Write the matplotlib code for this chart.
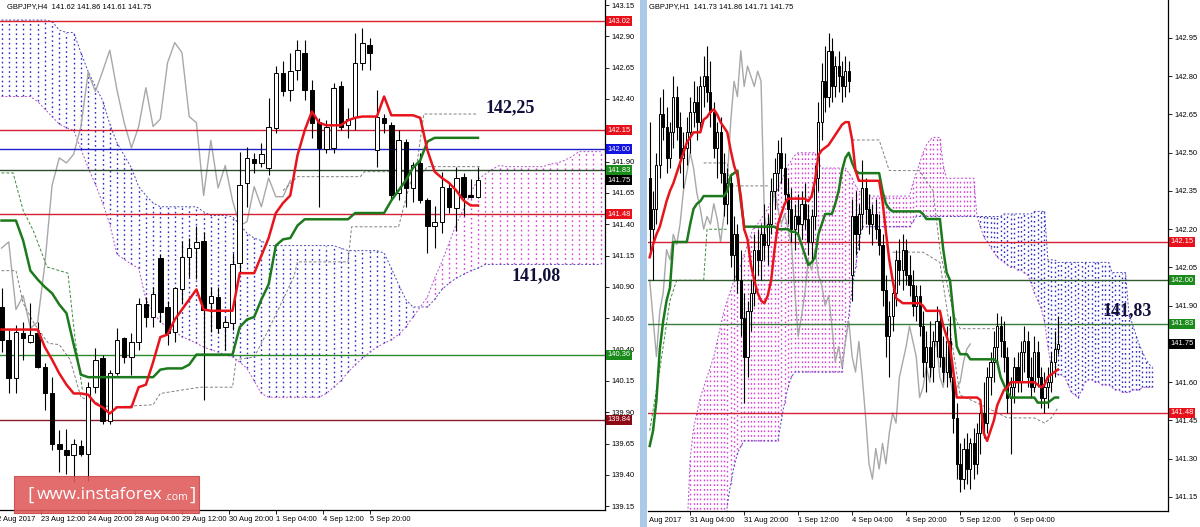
import numpy as np
import matplotlib.pyplot as plt
from matplotlib.patches import Rectangle
from matplotlib.transforms import blended_transform_factory

plt.rcParams['font.family'] = ['Liberation Sans', 'DejaVu Sans']

# ---------------- H4 panel (left) ----------------
h4_open = [140.74, 140.48, 140.17, 140.53, 140.46, 140.53, 140.26, 140.05, 139.65, 139.60,
           139.56, 139.63, 139.57, 140.10, 140.33, 139.83, 140.21, 140.49, 140.34, 140.46,
           140.76, 140.66, 141.13, 140.74, 140.54, 140.88, 141.14, 141.21, 141.27, 140.77,
           140.82, 140.58, 140.61, 141.09, 141.73, 141.92, 141.89, 141.85, 142.17, 142.61,
           142.47, 142.63, 142.77, 142.47, 142.22, 142.00, 142.01, 142.50, 142.19, 142.26,
           142.69, 142.83, 141.99, 142.25, 142.19, 141.65, 142.06, 141.69, 141.89, 141.59,
           141.39, 141.42, 141.69, 141.53, 141.78, 141.63, 141.62]
h4_high = [140.89, 140.56, 140.60, 140.62, 140.77, 140.62, 140.29, 140.18, 139.76, 139.77,
           139.69, 139.68, 140.14, 140.41, 140.36, 140.24, 140.57, 140.50, 140.53, 140.81,
           140.82, 140.90, 141.16, 140.79, 140.90, 141.27, 141.29, 141.39, 141.34, 140.90,
           140.90, 140.66, 141.17, 141.98, 142.02, 141.97, 142.05, 142.41, 142.66, 142.70,
           142.77, 142.87, 142.87, 142.55, 142.25, 142.23, 142.53, 142.54, 142.33, 142.93,
           142.97, 142.89, 142.47, 142.28, 142.22, 142.15, 142.08, 141.90, 141.97, 141.61,
           141.55, 141.82, 141.74, 141.86, 141.81, 141.76, 141.86]
h4_low = [140.38, 140.05, 140.05, 140.32, 140.45, 140.25, 139.92, 139.60, 139.42, 139.41,
          139.34, 139.55, 139.35, 140.05, 139.81, 139.81, 140.20, 140.29, 140.20, 140.40,
          140.58, 140.58, 140.62, 140.44, 140.46, 140.77, 140.98, 140.96, 140.00, 140.54,
          140.53, 140.40, 140.56, 141.01, 141.54, 141.81, 141.86, 141.79, 142.13, 142.42,
          142.38, 142.55, 142.39, 142.09, 141.54, 141.97, 141.97, 142.15, 142.09, 142.15,
          142.63, 142.63, 141.86, 142.13, 141.59, 141.59, 141.54, 141.58, 141.57, 141.17,
          141.21, 141.33, 141.49, 141.35, 141.47, 141.61, 141.61]
h4_close = [140.48, 140.17, 140.54, 140.49, 140.52, 140.26, 140.05, 139.65, 139.61, 139.56,
            139.65, 139.57, 140.10, 140.32, 139.83, 140.21, 140.48, 140.34, 140.46, 140.76,
            140.66, 140.84, 140.70, 140.53, 140.89, 141.14, 141.21, 141.26, 140.72, 140.83,
            140.57, 140.62, 141.08, 141.71, 141.93, 141.89, 141.96, 142.18, 142.61, 142.46,
            142.62, 142.79, 142.47, 142.21, 142.01, 142.18, 142.49, 142.18, 142.24, 142.69,
            142.85, 142.77, 142.26, 142.21, 141.63, 142.07, 141.69, 141.87, 141.59, 141.39,
            141.42, 141.70, 141.54, 141.77, 141.62, 141.62, 141.75]
h4_tenkan = [140.56, 140.56, 140.56, 140.56, 140.56, 140.56, 140.42, 140.32, 140.21, 140.12,
             140.05, 140.05, 140.04, 139.97, 139.94, 139.89, 139.94, 139.94, 139.94, 140.10,
             140.12, 140.30, 140.50, 140.52, 140.64, 140.72, 140.80, 140.88, 140.72, 140.71,
             140.71, 140.71, 140.71, 141.01, 141.01, 141.01, 141.15, 141.29, 141.49, 141.57,
             141.63, 141.95, 142.15, 142.30, 142.21, 142.19, 142.19, 142.19, 142.23, 142.25,
             142.26, 142.26, 142.26, 142.42, 142.27, 142.27, 142.27, 142.27, 142.25, 141.99,
             141.82, 141.77, 141.73, 141.67, 141.59, 141.55, 141.55]
h4_kijun = [141.43, 141.43, 141.43, 141.27, 141.03, 140.96, 140.90, 140.85, 140.76, 140.69,
            140.44, 140.20, 140.18, 140.18, 140.18, 140.18, 140.18, 140.18, 140.18, 140.18,
            140.18, 140.18, 140.24, 140.25, 140.25, 140.25, 140.28, 140.36, 140.36, 140.36,
            140.36, 140.36, 140.36, 140.58, 140.64, 140.66, 140.80, 140.92, 141.23, 141.28,
            141.29, 141.39, 141.44, 141.44, 141.44, 141.44, 141.44, 141.44, 141.44, 141.49,
            141.49, 141.49, 141.49, 141.49, 141.59, 141.67, 141.75, 141.85, 141.91, 142.06,
            142.09, 142.09, 142.09, 142.09, 142.09, 142.09, 142.09]
h4_span_a = [142.42, 142.42, 142.42, 142.42, 142.42, 142.38, 142.32, 142.26, 142.20, 142.17,
             142.15, 142.00, 141.85, 141.72, 141.57, 141.40, 141.16, 141.12, 141.08, 141.05,
             140.80, 140.70, 140.62, 140.58, 140.55, 140.50, 140.48, 140.45, 140.42, 140.40,
             140.38, 140.36, 140.34, 140.30, 140.25, 140.15, 140.05, 140.02, 140.02, 140.02,
             140.02, 140.02, 140.02, 140.02, 140.02, 140.05, 140.10, 140.15, 140.22, 140.28,
             140.33, 140.38, 140.42, 140.45, 140.48, 140.52, 140.58, 140.66, 140.74, 140.82,
             140.97, 141.10, 141.25, 141.40, 141.52, 141.65, 141.76, 141.80, 141.84, 141.87,
             141.86, 141.86, 141.86, 141.86, 141.86, 141.86, 141.88, 141.89, 141.91, 141.94,
             141.98, 141.98, 141.98, 141.98]
h4_span_b = [143.03, 143.03, 143.03, 143.03, 143.03, 143.03, 143.03, 143.02, 142.95, 142.93,
             142.93, 142.77, 142.62, 142.50, 142.39, 142.20, 142.05, 141.95, 141.85, 141.70,
             141.63, 141.57, 141.54, 141.54, 141.54, 141.54, 141.54, 141.54, 141.50, 141.47,
             141.47, 141.47, 141.46, 141.40, 141.33, 141.29, 141.27, 141.23, 141.23, 141.23,
             141.23, 141.23, 141.23, 141.23, 141.23, 141.23, 141.23, 141.21, 141.19, 141.19,
             141.19, 141.19, 141.19, 141.17, 141.05, 140.92, 140.80, 140.74, 140.74, 140.74,
             140.80, 140.88, 140.93, 140.97, 141.00, 141.03, 141.05, 141.08, 141.08, 141.08,
             141.08, 141.08, 141.08, 141.08, 141.08, 141.08, 141.08, 141.08, 141.08, 141.08,
             141.08, 141.08, 141.08, 141.08]
# thin dashed guide lines (bar index, price)
h4_guide1_x = [0, 2, 3, 4.5, 6.5, 8, 9.5, 11, 15, 21, 22, 27.5, 32, 32.5, 35, 37, 40.5, 41,
               45.5, 48, 48.5, 54, 55, 56.5, 57.5, 58.5, 66]
h4_guide1_y = [141.03, 141.03, 140.77, 140.61, 140.45, 140.44, 140.32, 140.02, 139.94, 139.96,
               140.05, 140.10, 140.10, 140.32, 140.34, 140.56, 140.98, 141.10, 141.10, 141.10,
               141.38, 141.38, 141.38, 141.71, 141.86, 142.28, 142.28]
h4_guide2_x = [0, 1.6, 3, 4.4, 6.3, 9.2, 10.2, 11.2]
h4_guide2_y = [141.81, 141.81, 141.51, 141.35, 141.06, 141.01, 140.48, 140.08]
h4_guide3_x = [39, 41, 49.7, 50.3, 58.5, 59, 66.3]
h4_guide3_y = [141.67, 141.78, 141.78, 141.82, 141.82, 141.86, 141.86]
h4_levels = [143.02, 142.15, 142.00, 141.83, 141.48, 140.36, 139.84]
h4_level_colors = ['#e0202c', '#d42030', '#2020c8', '#2e4a2e', '#d42030', '#2a8a2a', '#8a1c2a']
h4_tag_prices = [143.02, 142.15, 142.00, 141.83, 141.75, 141.48, 140.36, 139.84]
h4_tag_colors = ['#e8101a', '#e8101a', '#1414e0', '#1a8a1a', '#000000', '#e8101a', '#1a8a1a', '#8b0a14']
h4_yticks = [139.15, 139.40, 139.65, 139.90, 140.15, 140.40, 140.65, 140.90, 141.15, 141.40,
             141.65, 141.90, 142.40, 142.65, 142.90, 143.15]
h4_xtick_pos = [5.5, 12, 18.5, 25, 31.5, 38, 44.5, 51]
h4_xtick_lab = ['23 Aug 12:00', '24 Aug 20:00', '28 Aug 04:00', '29 Aug 12:00',
                '30 Aug 20:00', '1 Sep 04:00', '4 Sep 12:00', '5 Sep 20:00']

# ---------------- H1 panel (right) ----------------
h1_open = [142.40, 142.20, 142.28, 142.45, 142.65, 142.60, 142.48, 142.58, 142.72, 142.60,
           142.48, 142.52, 142.58, 142.66, 142.70, 142.62, 142.76, 142.80, 142.74, 142.66,
           142.52, 142.58, 142.42, 142.30, 142.38, 142.10, 142.18, 142.00, 141.85, 141.70,
           141.88, 141.95, 142.12, 142.08, 142.18, 142.14, 142.22, 142.35, 142.42, 142.50,
           142.44, 142.34, 142.28, 142.20, 142.25, 142.22, 142.30, 142.24, 142.15, 142.25,
           142.40, 142.62, 142.78, 142.72, 142.90, 142.76, 142.84, 142.80, 142.76, 142.82,
           142.02, 142.25, 142.18, 142.26, 142.36, 142.28, 142.22, 142.26, 142.20, 142.14,
           141.96, 141.78, 141.86, 141.95, 142.08, 142.04, 142.12, 142.02, 141.98, 141.90,
           141.94, 141.82, 141.68, 141.74, 141.66, 141.76, 141.84, 141.70, 141.64, 141.76,
           141.62, 141.46, 141.28, 141.22, 141.34, 141.26, 141.36, 141.28, 141.40, 141.48,
           141.44, 141.62, 141.68, 141.74, 141.82, 141.76, 141.70, 141.54, 141.58, 141.66,
           141.60, 141.72, 141.76, 141.62, 141.58, 141.72, 141.62, 141.54, 141.58, 141.60,
           141.68, 141.73]
h1_high = [142.62, 142.35, 142.50, 142.72, 142.75, 142.68, 142.62, 142.80, 142.76, 142.66,
           142.58, 142.64, 142.72, 142.78, 142.76, 142.80, 142.88, 142.92, 142.86, 142.70,
           142.62, 142.64, 142.50, 142.44, 142.42, 142.25, 142.22, 142.12, 141.95, 141.92,
           142.00, 142.18, 142.20, 142.22, 142.30, 142.26, 142.40, 142.48, 142.55, 142.56,
           142.50, 142.40, 142.36, 142.30, 142.34, 142.35, 142.38, 142.30, 142.28, 142.45,
           142.70, 142.85, 142.92, 142.97, 142.95, 142.88, 142.90, 142.86, 142.88, 142.86,
           142.32, 142.35, 142.30, 142.47, 142.40, 142.34, 142.30, 142.32, 142.26, 142.18,
           142.02, 141.92, 142.00, 142.12, 142.16, 142.18, 142.16, 142.10, 142.04, 141.98,
           141.98, 141.88, 141.80, 141.84, 141.80, 141.90, 141.88, 141.78, 141.82, 141.86,
           141.66, 141.52, 141.36, 141.38, 141.40, 141.38, 141.42, 141.44, 141.52, 141.60,
           141.66, 141.72, 141.80, 141.87, 141.86, 141.84, 141.74, 141.62, 141.70, 141.72,
           141.76, 141.82, 141.80, 141.70, 141.78, 141.76, 141.66, 141.64, 141.66, 141.72,
           141.80, 141.86]
h1_low = [142.10, 142.00, 142.22, 142.40, 142.55, 142.42, 142.44, 142.52, 142.55, 142.42,
          142.36, 142.45, 142.50, 142.60, 142.55, 142.58, 142.68, 142.70, 142.60, 142.48,
          142.40, 142.38, 142.25, 142.22, 142.05, 142.00, 141.95, 141.78, 141.52, 141.62,
          141.80, 141.90, 142.02, 142.00, 142.08, 142.06, 142.18, 142.28, 142.35, 142.38,
          142.30, 142.22, 142.15, 142.12, 142.18, 142.16, 142.20, 142.10, 142.08, 142.20,
          142.35, 142.55, 142.66, 142.68, 142.70, 142.72, 142.74, 142.70, 142.72, 142.74,
          141.92, 142.10, 142.12, 142.20, 142.22, 142.18, 142.14, 142.16, 142.10, 141.90,
          141.70, 141.62, 141.80, 141.90, 141.98, 141.96, 141.98, 141.94, 141.86, 141.84,
          141.78, 141.62, 141.56, 141.62, 141.60, 141.70, 141.66, 141.60, 141.58, 141.60,
          141.40, 141.22, 141.17, 141.18, 141.20, 141.18, 141.22, 141.24, 141.32, 141.38,
          141.40, 141.55, 141.60, 141.68, 141.70, 141.64, 141.48, 141.32, 141.52, 141.56,
          141.56, 141.64, 141.58, 141.54, 141.56, 141.58, 141.50, 141.48, 141.50, 141.56,
          141.62, 141.71]
h1_close = [142.20, 142.28, 142.45, 142.65, 142.60, 142.48, 142.58, 142.72, 142.60, 142.48,
            142.52, 142.58, 142.66, 142.70, 142.62, 142.76, 142.80, 142.74, 142.66, 142.52,
            142.58, 142.42, 142.30, 142.38, 142.10, 142.18, 142.00, 141.85, 141.70, 141.88,
            141.95, 142.12, 142.08, 142.18, 142.14, 142.22, 142.35, 142.42, 142.50, 142.44,
            142.34, 142.28, 142.20, 142.25, 142.22, 142.30, 142.24, 142.15, 142.25, 142.40,
            142.62, 142.78, 142.72, 142.90, 142.76, 142.84, 142.80, 142.76, 142.82, 142.78,
            142.25, 142.18, 142.26, 142.36, 142.28, 142.22, 142.26, 142.20, 142.14, 141.96,
            141.78, 141.86, 141.95, 142.08, 142.04, 142.12, 142.02, 141.98, 141.90, 141.94,
            141.82, 141.68, 141.74, 141.66, 141.76, 141.84, 141.70, 141.64, 141.76, 141.62,
            141.46, 141.28, 141.22, 141.34, 141.26, 141.36, 141.28, 141.40, 141.48, 141.44,
            141.62, 141.68, 141.74, 141.82, 141.76, 141.70, 141.54, 141.58, 141.66, 141.60,
            141.72, 141.76, 141.62, 141.58, 141.72, 141.62, 141.54, 141.58, 141.60, 141.68,
            141.73, 141.75]
h1_tenkan = [142.09, 142.14, 142.18, 142.21, 142.26, 142.31, 142.35, 142.38, 142.42, 142.46,
             142.50, 142.54, 142.56, 142.58, 142.58, 142.58, 142.63, 142.64, 142.66, 142.67,
             142.65, 142.62, 142.60, 142.58, 142.51, 142.45, 142.41, 142.33, 142.20, 142.16,
             142.06, 142.00, 141.95, 141.92, 141.91, 141.94, 142.00, 142.12, 142.22, 142.26,
             142.30, 142.32, 142.32, 142.32, 142.32, 142.32, 142.32, 142.31, 142.33, 142.39,
             142.49, 142.51, 142.52, 142.53, 142.55, 142.57, 142.59, 142.61, 142.62, 142.62,
             142.55, 142.43, 142.39, 142.39, 142.39, 142.39, 142.39, 142.39, 142.39, 142.31,
             142.19, 142.08, 142.00, 141.93, 141.92, 141.91, 141.91, 141.91, 141.91, 141.91,
             141.91, 141.90, 141.88, 141.88, 141.88, 141.88, 141.88, 141.82, 141.78, 141.74,
             141.64, 141.54, 141.54, 141.54, 141.54, 141.54, 141.54, 141.54, 141.53, 141.40,
             141.37, 141.41, 141.45, 141.51, 141.54, 141.57, 141.58, 141.60, 141.60, 141.60,
             141.60, 141.60, 141.60, 141.60, 141.60, 141.59, 141.58, 141.59, 141.62, 141.63,
             141.64, 141.65]
h1_kijun = [141.35, 141.41, 141.53, 141.73, 141.84, 141.92, 141.97, 142.15, 142.15, 142.15,
            142.15, 142.15, 142.22, 142.28, 142.30, 142.31, 142.33, 142.33, 142.33, 142.33,
            142.33, 142.33, 142.33, 142.35, 142.41, 142.42, 142.43, 142.31, 142.21, 142.21,
            142.21, 142.21, 142.21, 142.21, 142.21, 142.21, 142.21, 142.21, 142.20, 142.20,
            142.20, 142.20, 142.19, 142.19, 142.18, 142.14, 142.10, 142.06, 142.07, 142.09,
            142.18, 142.22, 142.26, 142.26, 142.26, 142.30, 142.35, 142.43, 142.48, 142.50,
            142.46, 142.43, 142.42, 142.42, 142.42, 142.42, 142.42, 142.42, 142.42, 142.35,
            142.30, 142.28, 142.27, 142.27, 142.27, 142.27, 142.27, 142.27, 142.27, 142.27,
            142.27, 142.26, 142.24, 142.24, 142.24, 142.24, 142.24, 142.12, 142.03, 142.00,
            141.87, 141.74, 141.71, 141.71, 141.71, 141.69, 141.69, 141.69, 141.69, 141.69,
            141.69, 141.69, 141.69, 141.68, 141.62, 141.59, 141.56, 141.54, 141.54, 141.54,
            141.54, 141.54, 141.54, 141.54, 141.54, 141.52, 141.52, 141.52, 141.52, 141.53,
            141.54, 141.54]
h1_span_a = [141.00, 141.00, 141.00, 141.00, 141.00, 141.00, 141.00, 141.00, 141.00, 141.00,
             141.00, 141.00, 141.30, 141.42, 141.48, 141.54, 141.58, 141.62, 141.66, 141.70,
             141.76, 141.82, 141.88, 141.92, 141.96, 142.00, 142.03, 142.06, 142.10, 142.14,
             142.18, 142.21, 142.22, 142.24, 142.26, 142.28, 142.31, 142.33, 142.36, 142.39,
             142.42, 142.45, 142.47, 142.49, 142.50, 142.50, 142.50, 142.50, 142.50, 142.50,
             142.46, 142.44, 142.44, 142.44, 142.44, 142.44, 142.44, 142.44, 142.44, 142.42,
             142.40, 142.37, 142.35, 142.34, 142.33, 142.33, 142.33, 142.33, 142.33, 142.33,
             142.33, 142.33, 142.33, 142.33, 142.33, 142.33, 142.33, 142.33, 142.38, 142.42,
             142.46, 142.50, 142.53, 142.55, 142.56, 142.56, 142.56, 142.45, 142.40, 142.40,
             142.40, 142.40, 142.40, 142.40, 142.40, 142.40, 142.40, 142.25, 142.21, 142.17,
             142.15, 142.13, 142.11, 142.09, 142.08, 142.07, 142.06, 142.05, 142.05, 142.04,
             142.04, 142.03, 142.02, 141.99, 141.95, 141.92, 141.89, 141.84, 141.74, 141.66,
             141.64, 141.63, 141.63, 141.62, 141.59, 141.56, 141.55, 141.54, 141.57, 141.60,
             141.61, 141.61, 141.60, 141.60, 141.59, 141.59, 141.59, 141.58, 141.57, 141.57,
             141.56, 141.56, 141.56, 141.57, 141.57, 141.57, 141.58, 141.58, 141.58, 141.58]
h1_span_b = [140.90, 140.90, 140.90, 140.90, 140.90, 140.90, 140.90, 140.90, 140.90, 140.90,
             140.90, 140.90, 140.90, 140.90, 140.90, 140.90, 140.90, 140.90, 140.90, 140.90,
             140.90, 140.90, 140.90, 141.12, 141.20, 141.27, 141.32, 141.35, 141.37, 141.37,
             141.37, 141.37, 141.37, 141.37, 141.37, 141.37, 141.37, 141.37, 141.37, 141.45,
             141.52, 141.58, 141.62, 141.64, 141.64, 141.64, 141.64, 141.64, 141.64, 141.64,
             141.64, 141.64, 141.64, 141.64, 141.64, 141.64, 141.64, 141.64, 141.76, 141.86,
             141.97, 142.05, 142.15, 142.21, 142.21, 142.21, 142.21, 142.21, 142.21, 142.21,
             142.21, 142.21, 142.21, 142.21, 142.21, 142.21, 142.21, 142.21, 142.23, 142.25,
             142.25, 142.25, 142.25, 142.25, 142.25, 142.25, 142.25, 142.25, 142.25, 142.25,
             142.25, 142.25, 142.25, 142.25, 142.25, 142.25, 142.25, 142.25, 142.25, 142.25,
             142.25, 142.25, 142.25, 142.25, 142.25, 142.26, 142.26, 142.26, 142.26, 142.26,
             142.26, 142.26, 142.26, 142.26, 142.27, 142.27, 142.27, 142.27, 142.08, 142.08,
             142.08, 142.07, 142.07, 142.07, 142.07, 142.07, 142.07, 142.07, 142.07, 142.07,
             142.07, 142.07, 142.07, 142.07, 142.07, 142.07, 142.07, 142.03, 142.03, 142.03,
             142.03, 142.03, 141.87, 141.83, 141.79, 141.75, 141.72, 141.69, 141.67, 141.66]
h1_guide1_x = [16, 23, 23.5, 27, 35, np.nan, 60, 68, 71, 80, 84, 86, 90, 92, 104]
h1_guide1_y = [142.46, 142.46, 142.37, 142.37, 142.37, np.nan, 142.55, 142.55, 142.43, 142.43,
               142.35, 142.12, 141.87, 141.81, 141.81]
h1_guide2_x = [72, 81, 86, 90, 92, 100, 106, 114, 117, 119, 121]
h1_guide2_y = [142.11, 142.11, 142.07, 141.72, 141.55, 141.50, 141.46, 141.46, 141.44, 141.46, 141.50]
h1_guide3_x = [0, 3, 6, 8, 16, 17, 23]
h1_guide3_y = [141.41, 141.65, 141.92, 142.00, 142.00, 142.20, 142.20]
h1_levels = [142.15, 142.00, 141.83, 141.48]
h1_level_colors = ['#d42030', '#2e5a2e', '#3a7a3a', '#d42030']
h1_tag_prices = [142.15, 142.00, 141.83, 141.75, 141.48]
h1_tag_colors = ['#e8101a', '#1a8a1a', '#1a8a1a', '#000000', '#e8101a']
h1_yticks = [141.15, 141.30, 141.45, 141.60, 141.90, 142.05, 142.20, 142.35, 142.50,
             142.65, 142.80, 142.95]
h1_xtick_pos = [12, 28, 44, 60, 76, 92, 108]
h1_xtick_lab = ['31 Aug 04:00', '31 Aug 20:00', '1 Sep 12:00', '4 Sep 04:00',
                '4 Sep 20:00', '5 Sep 12:00', '6 Sep 04:00']

SMALL = 5.4


def draw_panel(ax, o, h, l, c, tenkan, kijun, span_a, span_b, body_w, dots):
    o, h, l, c = map(np.array, (o, h, l, c))
    a, b = np.array(span_a), np.array(span_b)
    idx = np.arange(len(a))
    up = a >= b
    # cloud: dotted vertical hatching between the spans
    ax.vlines(idx[up], b[up], a[up], colors='#d640d6', linestyles=dots, lw=1.0, zorder=1)
    ax.vlines(idx[~up], a[~up], b[~up], colors='#2c2cc4', linestyles=dots, lw=1.0, zorder=1)
    ax.plot(idx, a, color='#b050c8', ls=(0, (2, 2)), lw=0.7, zorder=1)
    ax.plot(idx, b, color='#4848b8', ls=(0, (2, 2)), lw=0.7, zorder=1)
    # chikou = close shifted back 26 bars
    ci = np.arange(len(c) - 26)
    ax.plot(ci, c[26:], color='#a8a8a8', lw=1.0, zorder=2)
    # candles
    x = np.arange(len(c))
    ax.vlines(x, l, h, color='black', lw=0.8, zorder=4)
    bull = c >= o
    ax.bar(x, np.maximum(np.abs(c - o), 0.008), width=body_w, bottom=np.minimum(o, c),
           color=np.where(bull, 'white', 'black'), edgecolor='black', lw=0.7, zorder=5)
    ax.plot(x, kijun, color='#1c7a1c', lw=1.8, zorder=6)
    ax.plot(x, tenkan, color='#e8141c', lw=1.8, zorder=7)


def style_axis(ax, yticks, xpos, xlab, tags, tag_colors, levels, level_colors):
    for s in ('top', 'left'):
        ax.spines[s].set_visible(False)
    for s in ('right', 'bottom'):
        ax.spines[s].set_linewidth(0.9)
    ax.yaxis.tick_right()
    ax.set_yticks(yticks)
    ax.set_yticklabels([f'{v:.2f}' for v in yticks])
    ax.tick_params(axis='y', labelsize=SMALL, length=3, width=0.6, pad=1.5)
    ax.set_xticks(xpos)
    ax.set_xticklabels(xlab)
    ax.tick_params(axis='x', labelsize=SMALL, length=3, width=0.6, pad=1.5)
    for t in ax.get_xticklabels():
        t.set_ha('left')
    for lv, col in zip(levels, level_colors):
        ax.axhline(lv, color=col, lw=1.0, zorder=3)
    tr = blended_transform_factory(ax.transAxes, ax.transData)
    for p, col in zip(tags, tag_colors):
        ax.text(1.004, p, f'{p:.2f}', transform=tr, ha='left', va='center', fontsize=SMALL,
                color='white', clip_on=False, zorder=10,
                bbox=dict(boxstyle='square,pad=0.2', fc=col, ec='none'))


fig = plt.figure(figsize=(12, 5.27), dpi=100)
fig.patch.set_facecolor('white')

axL = fig.add_axes([0, 17 / 527, 605 / 1200, 510 / 527])
axR = fig.add_axes([648 / 1200, 16 / 527, 520 / 1200, 511 / 527])

draw_panel(axL, h4_open, h4_high, h4_low, h4_close, h4_tenkan, h4_kijun,
           h4_span_a, h4_span_b, 0.62, (0, (1.2, 2.2)))
draw_panel(axR, h1_open, h1_high, h1_low, h1_close, h1_tenkan, h1_kijun,
           h1_span_a, h1_span_b, 0.62, (0, (1.2, 2.2)))

for gx, gy, col in [(h4_guide1_x, h4_guide1_y, '#808080'), (h4_guide2_x, h4_guide2_y, '#3a8a3a'),
                    (h4_guide3_x, h4_guide3_y, '#808080')]:
    axL.plot(gx, gy, color=col, ls=(0, (3, 2)), lw=0.7, zorder=2)
for gx, gy, col in [(h1_guide1_x, h1_guide1_y, '#808080'), (h1_guide2_x, h1_guide2_y, '#808080'),
                    (h1_guide3_x, h1_guide3_y, '#3a8a3a')]:
    axR.plot(gx, gy, color=col, ls=(0, (3, 2)), lw=0.7, zorder=2)

axL.set_xlim(-0.21, 83.6)
axL.set_ylim(139.12, 143.19)
axR.set_xlim(-0.5, 153.6)
axR.set_ylim(141.095, 143.099)

style_axis(axL, h4_yticks, h4_xtick_pos, h4_xtick_lab, h4_tag_prices, h4_tag_colors,
           h4_levels, h4_level_colors)
style_axis(axR, h1_yticks, h1_xtick_pos, h1_xtick_lab, h1_tag_prices, h1_tag_colors,
           h1_levels, h1_level_colors)

axL.text(-0.012, -0.012, '22 Aug 2017', transform=axL.transAxes, ha='left', va='top', fontsize=SMALL)
axR.text(0.001, -0.012, 'Aug 2017', transform=axR.transAxes, ha='left', va='top', fontsize=SMALL)

axL.text(0.012, 0.995, 'GBPJPY,H4  141.62 141.86 141.61 141.75', transform=axL.transAxes,
         ha='left', va='top', fontsize=SMALL)
axR.text(0.002, 0.995, 'GBPJPY,H1  141.73 141.86 141.71 141.75', transform=axR.transAxes,
         ha='left', va='top', fontsize=SMALL)

note = dict(fontsize=13, fontweight='bold', family='Liberation Serif', color='#10103a', zorder=12)
axL.text(70.5, 142.33, '142,25', ha='center', va='center', **note)
axL.text(74.0, 140.99, '141,08', ha='center', va='center', **note)
axR.text(141.5, 141.88, '141,83', ha='center', va='center', **note)

# window separator strip
fig.add_artist(Rectangle((640 / 1200, 0), 7 / 1200, 1, transform=fig.transFigure,
                         fc='#a9cbe9', ec='none'))

# watermark
fig.add_artist(Rectangle((14 / 1200, 14 / 527), 185 / 1200, 37 / 527, transform=fig.transFigure,
                         fc='#e05858', ec='#c84848', lw=0.8, alpha=0.88, zorder=20))
wm = dict(color='white', va='center', family='Open Sans', zorder=21)
fig.text(27 / 1200, 32 / 527, '[', fontsize=14, ha='left', **wm)
fig.text(37 / 1200, 32 / 527, 'www.instaforex', fontsize=12.4, ha='left', **wm)
fig.text(164 / 1200, 30 / 527, '.com', fontsize=7.5, ha='left', **wm)
fig.text(190 / 1200, 32 / 527, ']', fontsize=14, ha='left', **wm)

fig.savefig('out.png', dpi=100, facecolor='white')
